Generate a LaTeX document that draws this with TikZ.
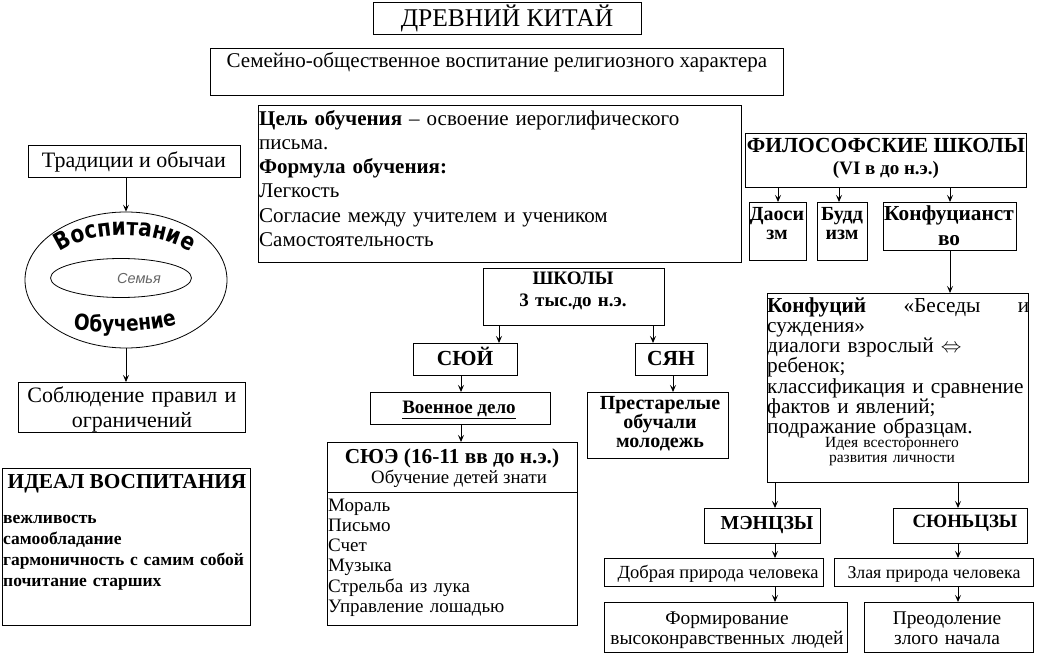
\documentclass[tikz,border=0pt]{standalone}
\usepackage{fontspec}
\setmainfont{Liberation Serif}
\newfontfamily\artfont{Liberation Sans}
\newfontfamily\dejab{DejaVu Sans}[FakeStretch=0.84]
\usetikzlibrary{arrows.meta,shapes.geometric,decorations.text}
\newcommand\fs[2]{\fontsize{#1bp}{#2bp}\selectfont}
\newcommand\bx[5]{\node[box,minimum width=#4bp,minimum height=#5bp] (#1) at (#2,#3) {};}
\begin{document}
\begin{tikzpicture}[x=1bp,y=-1bp,
  box/.style={draw,line width=0.9bp,inner sep=0pt,anchor=north west},
  arr/.style={-{Stealth[length=7bp,width=6bp,inset=3bp]},line width=0.8bp},
  txt/.style={inner sep=0pt,anchor=base},
  mtxt/.style={inner sep=0pt,anchor=base,align=center},
  ltxt/.style={inner sep=0pt,anchor=base west,align=left,text width=640bp},
]
\useasboundingbox[fill=white] (0,0) rectangle (1039,655);

% ---------- boxes ----------
\bx{title}{373}{2}{268}{32}
\bx{sub}{210}{48}{573}{47}
\bx{cbox}{258}{105}{483}{157}
\bx{trad}{28}{145}{212}{32}
\node[draw,ellipse,line width=0.8bp,inner sep=0pt,minimum width=202bp,minimum height=136bp] (outer) at (126,280) {};
\node[draw,ellipse,line width=0.8bp,inner sep=0pt,minimum width=141bp,minimum height=39bp] (inner) at (121,278) {};
\bx{sobl}{18}{382}{227}{50}
\bx{ideal}{2}{468}{248}{157}
\bx{shk}{483}{268}{181}{57}
\bx{syuy}{413}{343}{104}{32}
\bx{syan}{635}{343}{72}{32}
\bx{voen}{370}{392}{180}{32}
\bx{prest}{587}{392}{141}{66}
\bx{syue}{327}{442}{250}{183}
\bx{filos}{745}{133}{281}{54}
\bx{dao}{749}{202}{57}{58}
\bx{budd}{817}{202}{50}{58}
\bx{konf}{883}{202}{133}{48}
\bx{kfc}{767}{293}{261}{189}
\bx{men}{704}{508}{116}{35}
\bx{syun}{893}{508}{134}{35}
\bx{dobr}{604}{558}{219}{28}
\bx{zla}{834}{558}{199}{28}
\bx{form}{604}{602}{243}{50}
\bx{preod}{864}{602}{169}{50}

\coordinate (ydiv) at (0,492);
\draw[line width=0.9bp] (syue.west |- ydiv) -- (syue.east |- ydiv);

% ---------- texts ----------
\node[txt,font=\fs{25.5}{28}] (titlet) at (507,27) {ДРЕВНИЙ КИТАЙ};
\node[txt,font=\fs{21}{24}] (subt) at (497,68) {Семейно-общественное воспитание религиозного характера};
\node[ltxt,font=\fs{21}{24}] (ctext) at (259,126) {\textbf{Цель обучения} – освоение иероглифического\\письма.\\\textbf{Формула обучения:}\\Легкость\\Согласие между учителем и учеником\\Самостоятельность};
\node[txt,font=\fs{22}{24}] (tradt) at (134,168) {Традиции и обычаи};
\node[txt,text=black!60,font=\artfont\itshape\fs{14.5}{16}] (semya) at (139,283) {Семья};
\path[decorate,decoration={text along path,text align=center,text={|\dejab\bfseries\fs{24}{24}|Воспитание}}] (54,257) .. controls (84,228) and (164,228) .. (196,257);
\path[decorate,decoration={text along path,text align=center,text={|\dejab\bfseries\fs{22}{22}|Обучение}}] (62,328) .. controls (100,334) and (150,334) .. (188,321);
\node[mtxt,text width=225bp,font=\fs{22}{25}] (soblt) at (132,402) {Соблюдение правил и\\ограничений};
\node[txt,font=\fs{21.3}{24}\bfseries] (idealt) at (127,488) {ИДЕАЛ ВОСПИТАНИЯ};
\node[ltxt,font=\fs{17.5}{21}\bfseries] (idealx) at (3,523) {вежливость\\самообладание\\гармоничность с самим собой\\почитание старших};
\node[mtxt,text width=175bp,font=\fs{19}{22}\bfseries] (shkt) at (573,284) {ШКОЛЫ\\3 тыс.до н.э.};
\node[txt,font=\fs{21.5}{24}\bfseries] (syuyt) at (465,365) {СЮЙ};
\node[txt,font=\fs{21.5}{24}\bfseries] (syant) at (671,365) {СЯН};
\node[txt,font=\fs{19}{22}\bfseries] (voent) at (459,413) {\underline{Военное дело}};
\node[mtxt,text width=140bp,font=\fs{20}{18.5}\bfseries] (prestt) at (660,409) {Престарелые\\обучали\\молодежь};
\node[txt,font=\fs{21.3}{24}\bfseries] (syuet) at (452,463) {СЮЭ (16-11 вв до н.э.)};
\node[txt,font=\fs{18.8}{22}] (syues) at (459,483) {Обучение детей знати};
\node[ltxt,font=\fs{19}{20.3}] (syuex) at (328,511) {Мораль\\Письмо\\Счет\\Музыка\\Стрельба из лука\\Управление лошадью};
\node[txt,font=\fs{21.5}{24}\bfseries] (filost) at (886,153) {ФИЛОСОФСКИЕ ШКОЛЫ};
\node[txt,font=\fs{19}{22}\bfseries] (filoss) at (886,175) {(VI в до н.э.)};
\node[mtxt,text width=56bp,font=\fs{20}{19}\bfseries] (daot) at (777,220) {Даоси\\зм};
\node[mtxt,text width=49bp,font=\fs{20}{19}\bfseries] (buddt) at (842,220) {Будд\\изм};
\node[mtxt,text width=132bp,font=\fs{21.3}{25}\bfseries] (konft) at (949,220) {Конфуцианст\\во};
\node[ltxt,font=\fs{21.3}{20.3}] (kfct) at (767,312) {\makebox[262bp][l]{\textbf{Конфуций}\hfill«Беседы\hfill и}\\суждения»\\диалоги взрослый $\Leftrightarrow$\\ребенок;\\классификация и сравнение\\фактов и явлений;\\подражание образцам.};
\node[mtxt,text width=220bp,font=\fs{15.5}{15.5}] (kfcs) at (892,447) {Идея всестороннего\\развития личности};
\node[txt,font=\fs{19.8}{22}\bfseries] (ment) at (767,529) {МЭНЦЗЫ};
\node[txt,font=\fs{18.8}{22}\bfseries] (syunt) at (965,527) {СЮНЬЦЗЫ};
\node[txt,font=\fs{18.5}{22}] (dobrt) at (718,578) {Добрая природа человека};
\node[txt,font=\fs{17.9}{22}] (zlat) at (934,578) {Злая природа человека};
\node[mtxt,text width=240bp,font=\fs{19.4}{20}] (formt) at (727,624) {Формирование\\высоконравственных людей};
\node[mtxt,text width=165bp,font=\fs{19.4}{20}] (preodt) at (947,624) {Преодоление\\злого начала};

% ---------- connectors ----------
\coordinate (xa) at (126,0);
\coordinate (xb) at (499,0);
\coordinate (xc) at (653,0);
\coordinate (xd) at (461,0);
\coordinate (xe) at (673,0);
\coordinate (xf) at (778,0);
\coordinate (xg) at (839,0);
\coordinate (xh) at (950,0);
\coordinate (xi) at (775,0);
\coordinate (xj) at (958,0);
\draw[arr] (trad.south -| xa) -- (outer.north -| xa);
\draw[arr] (outer.south -| xa) -- (sobl.north -| xa);
\draw[arr] (shk.south -| xb) -- (syuy.north -| xb);
\draw[arr] (shk.south -| xc) -- (syan.north -| xc);
\draw[arr] (syuy.south -| xd) -- (voen.north -| xd);
\draw[arr] (voen.south -| xd) -- (syue.north -| xd);
\draw[arr] (syan.south -| xe) -- (prest.north -| xe);
\draw[arr] (filos.south -| xf) -- (dao.north -| xf);
\draw[arr] (filos.south -| xg) -- (budd.north -| xg);
\draw[arr] (filos.south -| xh) -- (konf.north -| xh);
\draw[arr] (konf.south -| xh) -- (kfc.north -| xh);
\draw[arr] (kfc.south -| xi) -- (men.north -| xi);
\draw[arr] (kfc.south -| xj) -- (syun.north -| xj);
\draw[arr] (men.south -| xi) -- (dobr.north -| xi);
\draw[arr] (syun.south -| xj) -- (zla.north -| xj);
\draw[arr] (dobr.south -| xi) -- (form.north -| xi);
\draw[arr] (zla.south -| xj) -- (preod.north -| xj);
\end{tikzpicture}
\end{document}
